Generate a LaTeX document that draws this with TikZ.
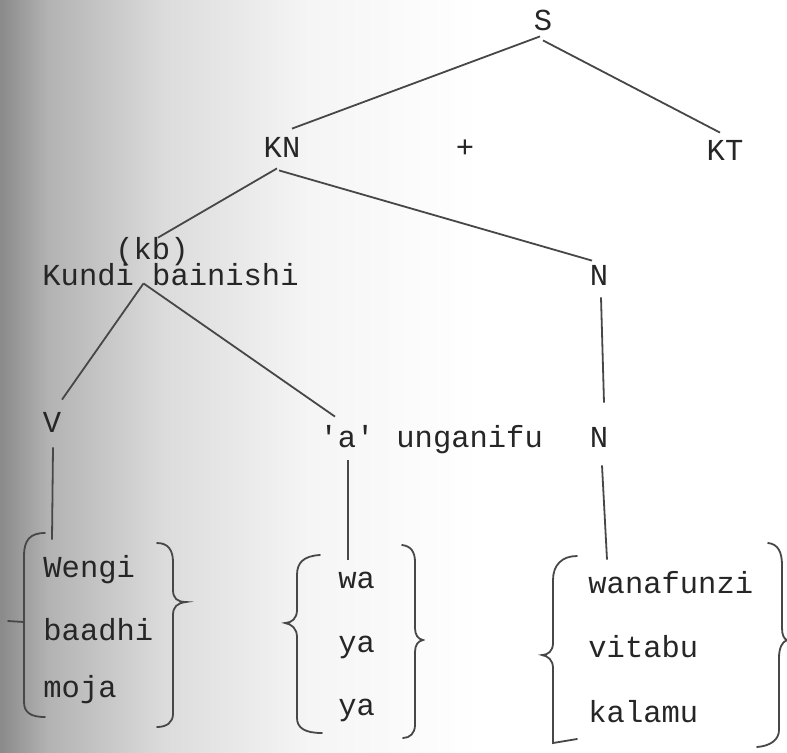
\documentclass[tikz,border=0pt]{standalone}
\usepackage{fontspec}
\setmonofont{Liberation Mono}
\pgfdeclarehorizontalshading{pageedge}{100bp}{color(0bp)=(black!46); color(25bp)=(black!46); color(30bp)=(black!30); color(42bp)=(black!14); color(57bp)=(black!4); color(75bp)=(white); color(100bp)=(white)}
\begin{document}
\begin{tikzpicture}[x=0.5pt,y=-0.5pt,
  every node/.style={font=\ttfamily\fontsize{15.25}{18}\selectfont,text=black!85,inner sep=0pt,text height=8.5pt,text depth=0pt},
  tl/.style={draw=black!72,line width=0.9pt},
  br/.style={draw=black!72,line width=0.9pt,line cap=round}]
  \useasboundingbox (0,0) rectangle (787,752);
  % grey edge of the scanned page
  \shade[shading=pageedge] (0,0) rectangle (480,752);
  % tree
  \node[anchor=base] (S) at (543,30) {S};
  \node[anchor=base] (KN) at (282,157) {KN};
  \node[anchor=base] (plus) at (465,157) {+};
  \node[anchor=base] (KT) at (725,160) {KT};
  \node[anchor=base] (kb) at (152,259) {(kb)};
  \node[anchor=base west] (kundi) at (42,285) {Kundi bainishi};
  \node[anchor=base] (N1) at (599,285) {N};
  \node[anchor=base] (V) at (52,432) {V};
  \node[anchor=base] (aa) at (347,447) {'a'};
  \node[anchor=base west] (ung) at (396,447) {unganifu};
  \node[anchor=base] (N2) at (599,447) {N};
  % words
  \node[anchor=base west] (w1) at (43,577) {Wengi};
  \node[anchor=base west] (w2) at (43,640) {baadhi};
  \node[anchor=base west] (w3) at (43,697) {moja};
  \node[anchor=base west] (a1) at (338,588) {wa};
  \node[anchor=base west] (a2) at (338,652) {ya};
  \node[anchor=base west] (a3) at (338,715) {ya};
  \node[anchor=base west] (n1) at (588,593) {wanafunzi};
  \node[anchor=base west] (n2) at (588,657) {vitabu};
  \node[anchor=base west] (n3) at (588,722) {kalamu};
  % branches
  \draw[tl] ([shift={(-3,6)}]S.south) -- ([shift={(10,-11)}]KN.north);
  \draw[tl] ([shift={(0,10)}]S.south) -- ([shift={(-5,-10)}]KT.north);
  \draw[tl] ([shift={(-5,11)}]KN.south) -- ([shift={(6,-4)}]kb.north);
  \draw[tl] ([shift={(-3,13)}]KN.south) -- ([shift={(-7,-7)}]N1.north);
  \draw[tl] ([shift={(2,12)}]N1.south) -- ([shift={(5,-27)}]N2.north);
  \draw[tl] ([shift={(-27,-2)}]kundi.south) -- ([shift={(10,-15)}]V.north);
  \draw[tl] ([shift={(-27,-2)}]kundi.south) -- ([shift={(-12,-13)}]aa.north);
  \draw[tl] ([shift={(1,15)}]V.south) -- ([shift={(9,-20)}]w1.north west);
  \draw[tl] ([shift={(1,13)}]aa.south) -- ([shift={(10,-11)}]a1.north west);
  \draw[tl] ([shift={(3,18)}]N2.south) -- ([shift={(19,-16)}]n1.north west);
  % braces
  \draw[br] (45,533) .. controls (30,533) and (24,540) .. (24,556) -- (24,702) .. controls (24,712) and (30,717) .. (45,717);
  \draw[br] (8,621) -- (24,622);
  \draw[br] (157,543) .. controls (168,543) and (173,550) .. (173,562) -- (173,590) .. controls (173,598) and (177,602) .. (186,602) .. controls (177,603) and (173,607) .. (173,615) -- (173,714) .. controls (173,722) and (167,727) .. (157,727);
  \draw[br] (320,555) .. controls (303,556) and (297,563) .. (297,575) -- (297,610) .. controls (297,618) and (292,623) .. (285,623) .. controls (292,624) and (297,629) .. (297,637) -- (297,718) .. controls (297,728) and (305,733) .. (322,733);
  \draw[br] (402,545) .. controls (411,546) and (415,552) .. (415,562) -- (415,628) .. controls (415,635) and (418,639) .. (423,640) .. controls (418,641) and (415,645) .. (415,652) -- (415,725) .. controls (415,733) and (410,738) .. (403,738);
  \draw[br] (577,556) .. controls (562,556) and (553,565) .. (553,580) -- (553,643) .. controls (553,651) and (548,655) .. (542,655) .. controls (548,656) and (553,660) .. (553,668) -- (553,743) -- (577,739);
  \draw[br] (768,543) .. controls (778,544) and (782,552) .. (782,565) -- (782,628) .. controls (782,635) and (784,639) .. (787,640) .. controls (782,642) and (779,648) .. (779,658) -- (779,730) .. controls (779,740) and (770,746) .. (757,747);
\end{tikzpicture}
\end{document}
